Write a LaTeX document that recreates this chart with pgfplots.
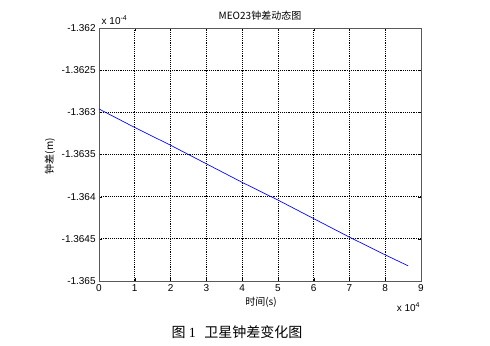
\documentclass[border=0pt]{standalone}
\usepackage{pgfplots}
\pgfplotsset{compat=1.18}
\usepackage{fontspec}
\setmainfont{Liberation Sans}
\newfontfamily\cjk{Noto Sans CJK SC}
\newfontfamily\serif{Liberation Serif}
\begin{document}
\begin{tikzpicture}
\path[use as bounding box] (0pt,0pt) rectangle (367.5pt,259.5pt);
\begin{axis}[
  at={(74.25pt,48.75pt)}, anchor=south west,
  scale only axis, width=241.5pt, height=189.75pt,
  xmin=0, xmax=9, ymin=-1.365, ymax=-1.362,
  xtick={0,1,...,9},
  xticklabels={0,1,2,3,4,5,6,7,8,9},
  ytick={-1.365,-1.3645,-1.364,-1.3635,-1.363,-1.3625,-1.362},
  yticklabels={-1.365,-1.3645,-1.364,-1.3635,-1.363,-1.3625,-1.362},
  tick label style={font=\fontsize{7.5}{9}\selectfont},
  tick align=inside, tickwidth=2.5pt,
  major tick style={black},
  grid=major,
  major grid style={black, densely dotted, line width=0.5pt},
  axis line style={black!65, line width=0.6pt},
  xticklabel style={yshift=1pt},
  yticklabel style={xshift=1pt},
  clip=false,
]
\addplot[blue, line width=0.5pt] coordinates {
(0,-1.36296) (1,-1.36318) (2,-1.36339) (3,-1.36361) (4,-1.36383)
(5,-1.36404) (6,-1.36426) (7,-1.36448) (8,-1.36469) (8.64,-1.36482)};
\end{axis}
\node[font=\cjk\fontsize{7.5}{9}\selectfont] at (195pt,247.5pt) {MEO23钟差动态图};
\node[font=\fontsize{7.5}{9}\selectfont, anchor=west] at (72.75pt,244.5pt) {x 10\textsuperscript{-4}};
\node[font=\fontsize{7.5}{9}\selectfont, anchor=east] at (318.75pt,29.25pt) {x 10\textsuperscript{4}};
\node[font=\cjk\fontsize{7.5}{9}\selectfont] at (195.75pt,33pt) {时间(s)};
\node[font=\cjk\fontsize{7.5}{9}\selectfont, rotate=90] at (37.5pt,142.5pt) {钟差(m)};
\node[font=\cjk\fontsize{10.5}{12}\selectfont] at (177.75pt,10.5pt) {图 {\serif 1}\hspace{0.6em}卫星钟差变化图};
\end{tikzpicture}
\end{document}
